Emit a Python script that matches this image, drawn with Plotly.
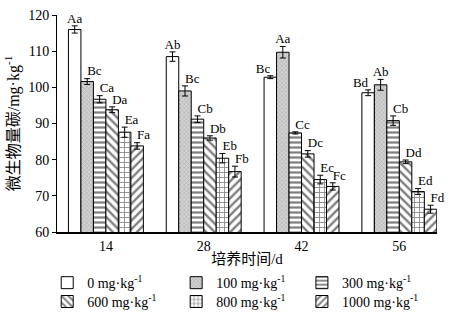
import plotly.graph_objects as go

days = ["14", "28", "42", "56"]
doses = ["0 mg·kg<sup>-1</sup>", "100 mg·kg<sup>-1</sup>", "300 mg·kg<sup>-1</sup>",
         "600 mg·kg<sup>-1</sup>", "800 mg·kg<sup>-1</sup>", "1000 mg·kg<sup>-1</sup>"]

v0 = [116.0, 108.5, 102.8, 98.5]
v100 = [101.6, 99.0, 109.7, 100.7]
v300 = [96.7, 91.2, 87.4, 90.8]
v600 = [93.8, 86.0, 81.6, 79.4]
v800 = [87.6, 80.4, 74.5, 71.2]
v1000 = [83.8, 76.7, 72.6, 66.3]
values = [v0, v100, v300, v600, v800, v1000]

e0 = [1.0, 1.3, 0.4, 0.8]
e100 = [0.8, 1.4, 1.6, 1.5]
e300 = [1.0, 0.9, 0.3, 1.3]
e600 = [0.8, 0.6, 0.9, 0.5]
e800 = [1.4, 1.3, 1.2, 0.8]
e1000 = [0.9, 1.5, 1.0, 1.1]
errors = [e0, e100, e300, e600, e800, e1000]

l0 = ["Aa", "Ab", "Bc", "Bd"]
l100 = ["Bc", "Bc", "Aa", "Ab"]
l300 = ["Ca", "Cb", "Cc", "Cb"]
l600 = ["Da", "Db", "Dc", "Dd"]
l800 = ["Ea", "Eb", "Ec", "Ed"]
l1000 = ["Fa", "Fb", "Fc", "Fd"]
letters = [l0, l100, l300, l600, l800, l1000]

# label placement relative to error-bar top
pos0 = ["top center", "top center", "top left", "top left"]
posc = ["top right", "top right", "top right", "top right"]
pos100 = ["top right", "top right", "top center", "top center"]
positions = [pos0, pos100, posc, posc, posc, posc]

patterns = [
    dict(shape="", bgcolor="white", fgcolor="black"),
    dict(shape="x", bgcolor="#d2d2d2", fgcolor="#8c8c8c", size=3, solidity=0.35),
    dict(shape="-", bgcolor="white", fgcolor="black", size=5, solidity=0.45),
    dict(shape="\\", bgcolor="white", fgcolor="black", size=6, solidity=0.4),
    dict(shape="+", bgcolor="white", fgcolor="black", size=5, solidity=0.3),
    dict(shape="/", bgcolor="white", fgcolor="black", size=6, solidity=0.4),
]

FONT = "Liberation Serif, Noto Sans CJK SC, serif"
xs = list(range(len(days)))
legend_ids = ["legend", "legend2", "legend3", "legend4", "legend5", "legend6"]
legend_x = [0.104, 0.388, 0.665, 0.104, 0.388, 0.665]
legend_y = [0.129, 0.129, 0.129, 0.071, 0.071, 0.071]

fig = go.Figure()
for i in range(6):
    fig.add_trace(go.Bar(
        x=xs, y=values[i], name=doses[i],
        offsetgroup=str(i), alignmentgroup="g",
        marker=dict(color="white", pattern=patterns[i],
                    line=dict(color="black", width=1)),
        error_y=dict(type="data", array=errors[i], color="black", thickness=1, width=3),
        legend=legend_ids[i],
    ))
for i in range(6):
    fig.add_trace(go.Scatter(
        x=xs, y=[v + e for v, e in zip(values[i], errors[i])],
        mode="text", text=letters[i], textposition=positions[i],
        textfont=dict(family=FONT, size=13, color="black"),
        offsetgroup=str(i), alignmentgroup="g",
        showlegend=False, hoverinfo="skip", cliponaxis=False,
    ))

legends = {}
for i in range(6):
    legends[legend_ids[i]] = dict(
        orientation="h", x=legend_x[i], y=legend_y[i], xref="container", yref="container",
        xanchor="left", yanchor="middle",
        font=dict(size=14), bgcolor="rgba(0,0,0,0)", itemwidth=30)

fig.update_layout(
    width=454, height=325,
    margin=dict(l=57, r=17, t=15, b=93),
    plot_bgcolor="white", paper_bgcolor="white",
    barmode="group", scattermode="group", bargap=0.234, bargroupgap=0,
    font=dict(family=FONT, size=14, color="black"),
    xaxis=dict(tickmode="array", tickvals=xs, ticktext=days, range=[-0.5, 3.385],
               showline=True, linecolor="black", linewidth=2, ticks="",
               showgrid=False, zeroline=False, tickfont=dict(size=14), automargin=False,
               title=dict(text="培养时间/d", font=dict(size=15), standoff=2)),
    yaxis=dict(range=[60, 120], dtick=10, showline=True, linecolor="black",
               linewidth=1, ticks="outside", ticklen=4, tickcolor="black",
               showgrid=False, zeroline=False, tickfont=dict(size=14), automargin=False,
               title=dict(text="微生物量碳/mg·kg<sup>-1</sup>", font=dict(size=16), standoff=4)),
    **legends,
)

fig.write_html("out.html")
